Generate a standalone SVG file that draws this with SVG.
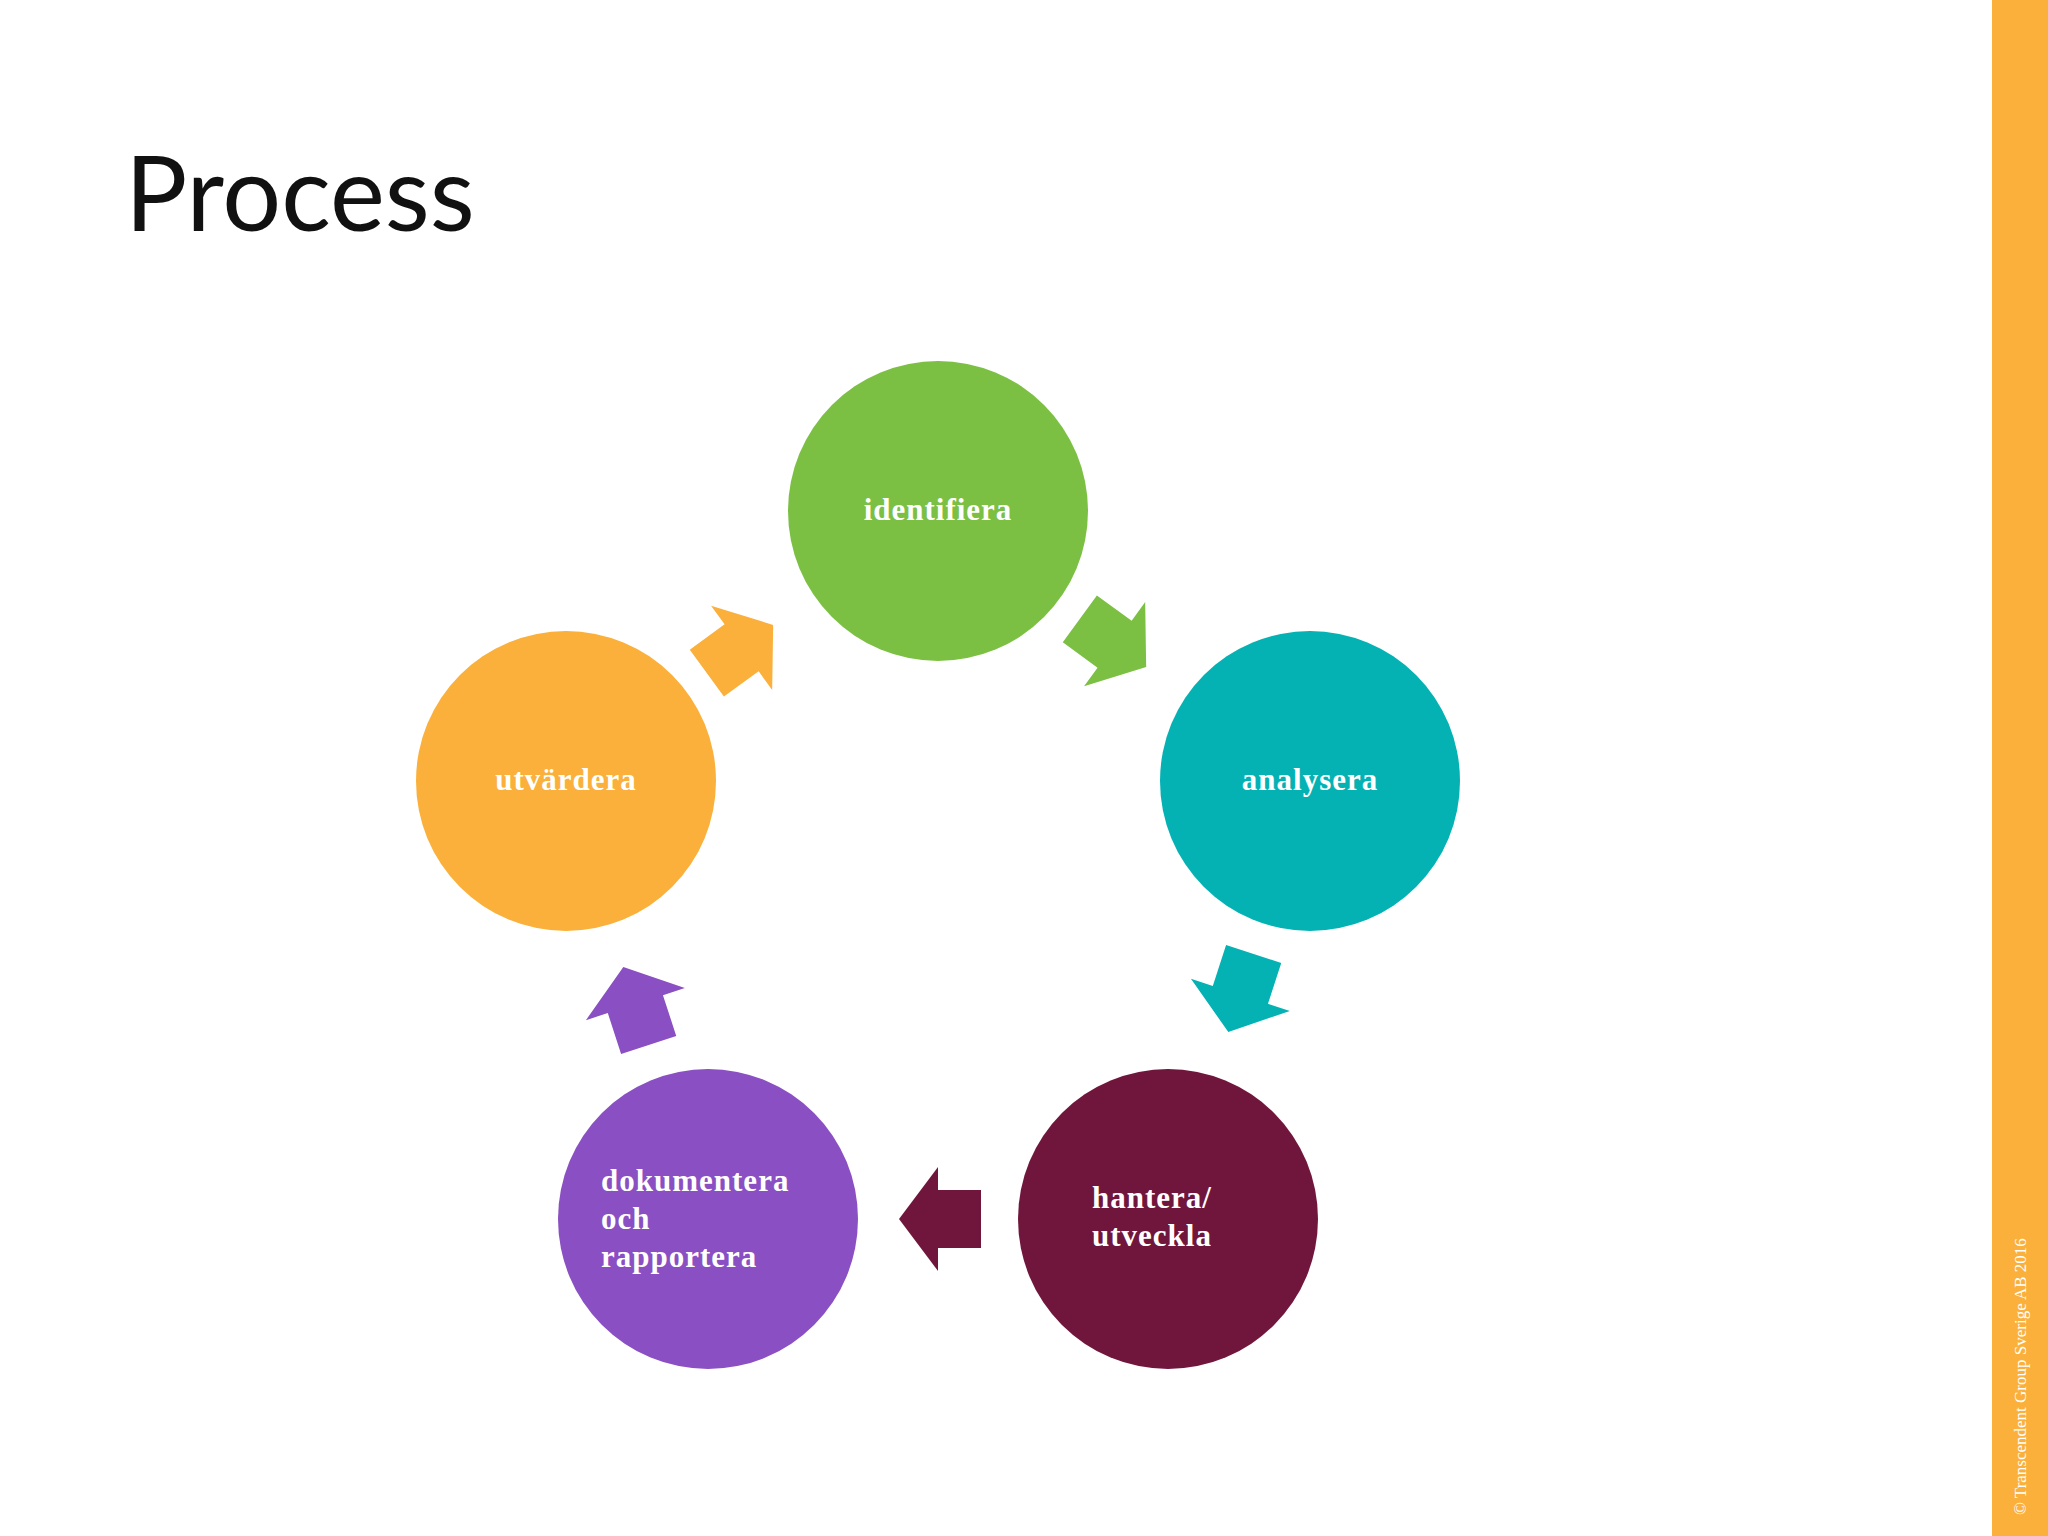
<svg xmlns="http://www.w3.org/2000/svg" width="2048" height="1536" viewBox="0 0 2048 1536">
<style>
.lbl{font-family:"Liberation Serif",serif;font-weight:bold;font-size:31px;fill:#fff;letter-spacing:1px}
</style>
<defs><polygon id="arr" points="-41,-29 2,-29 2,-52 41,0 2,52 2,29 -41,29"/></defs>
<rect width="2048" height="1536" fill="#fff"/>
<rect x="1992" y="0" width="56" height="1536" fill="#FAB03A"/>
<text x="125" y="231" font-family="Lato,sans-serif" font-size="104" fill="#111">Process</text>
<text transform="translate(2026,1515) rotate(-90)" font-family="Liberation Serif,serif" font-size="17" fill="#fff">© Transcendent Group Sverige AB 2016</text>
<g id="connectors">
<use href="#arr" fill="#7BC043" transform="translate(1113,643) rotate(36)"/>
<use href="#arr" fill="#04B2B4" transform="translate(1241,993) rotate(108)"/>
<use href="#arr" fill="#70163C" transform="translate(940,1219) rotate(180)"/>
<use href="#arr" fill="#8A4FC2" transform="translate(636,1006) rotate(252)"/>
<use href="#arr" fill="#FAB03A" transform="translate(740,649) rotate(-36)"/>
</g>
<g id="identifiera"><circle cx="938" cy="511" r="150" fill="#7BC043"/><text class="lbl" x="938" y="520" text-anchor="middle">identifiera</text></g>
<g id="analysera"><circle cx="1310" cy="781" r="150" fill="#04B2B4"/><text class="lbl" x="1310" y="790" text-anchor="middle">analysera</text></g>
<g id="hantera"><circle cx="1168" cy="1219" r="150" fill="#70163C"/><text class="lbl" x="1092" y="1208">hantera/</text><text class="lbl" x="1092" y="1246">utveckla</text></g>
<g id="dokumentera"><circle cx="708" cy="1219" r="150" fill="#8A4FC2"/><text class="lbl" x="601" y="1191">dokumentera</text><text class="lbl" x="601" y="1229">och</text><text class="lbl" x="601" y="1267">rapportera</text></g>
<g id="utvardera"><circle cx="566" cy="781" r="150" fill="#FAB03A"/><text class="lbl" x="566" y="790" text-anchor="middle">utvärdera</text></g>
</svg>
